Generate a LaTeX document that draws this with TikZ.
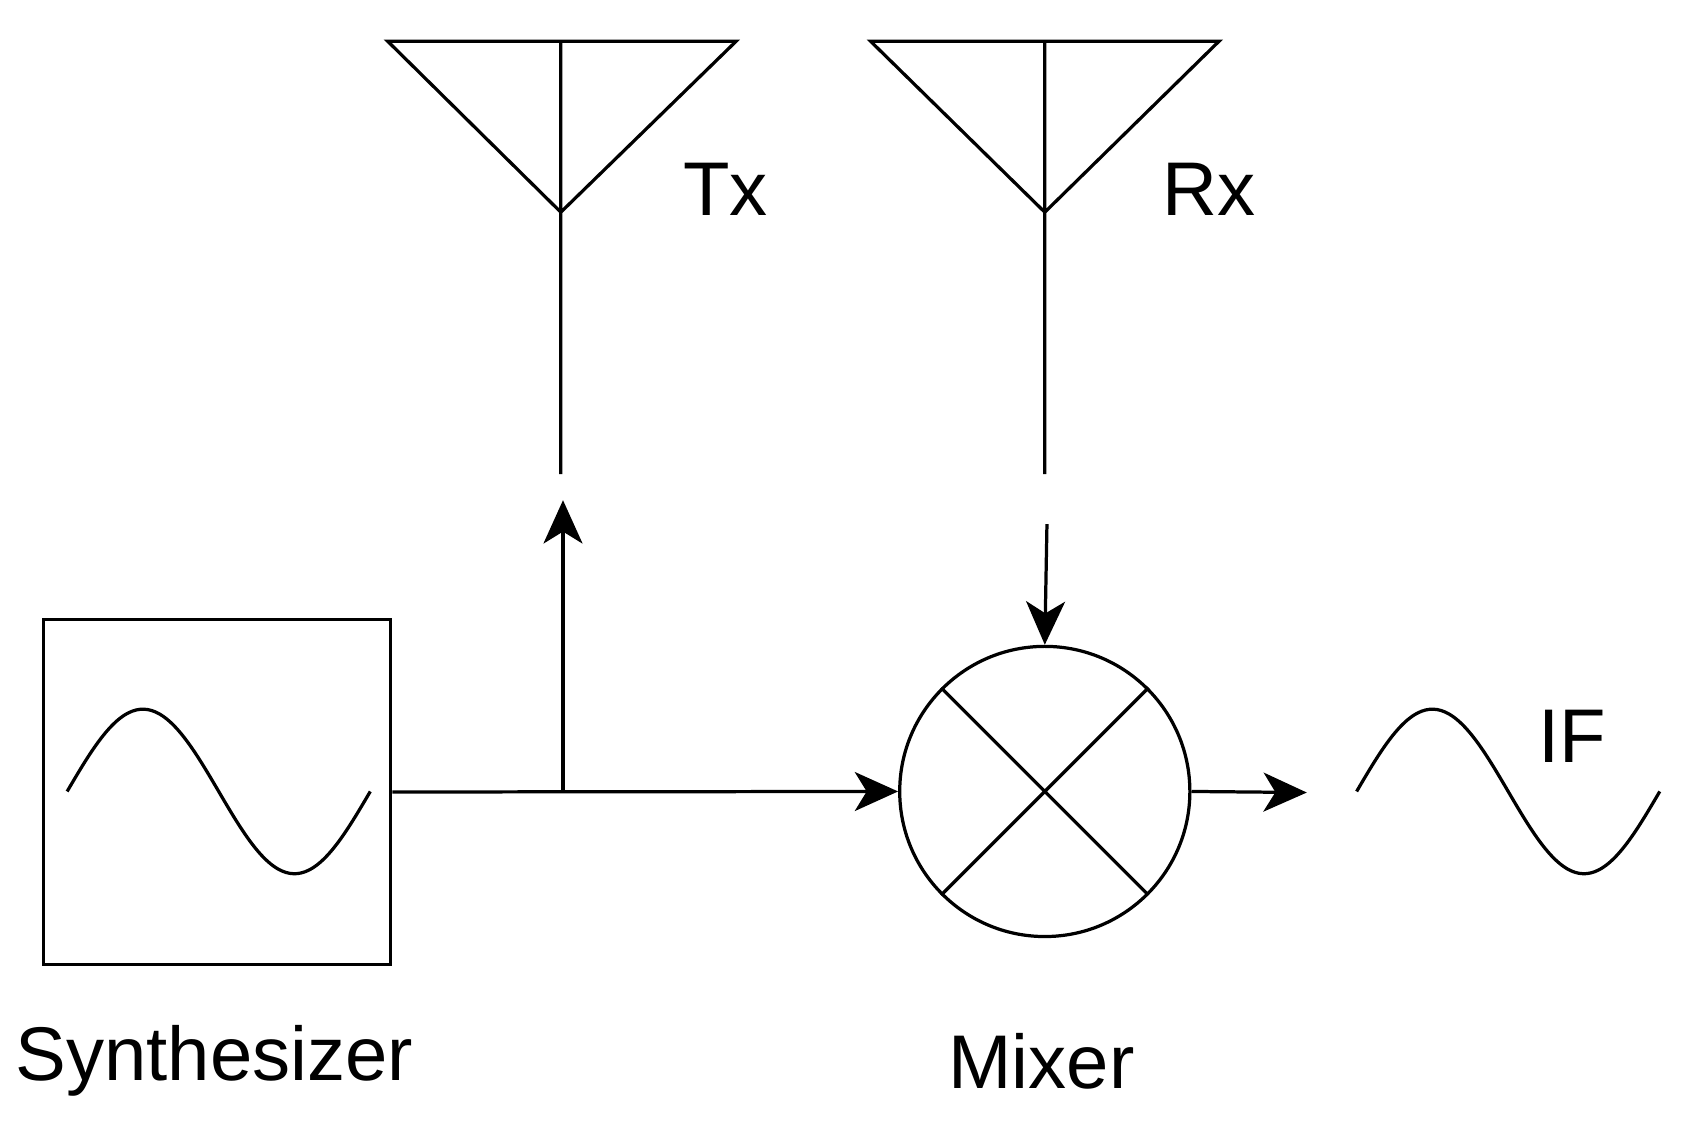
\documentclass[tikz,border=0pt]{standalone}
\usepackage{fontspec}
\setmainfont{Liberation Sans}
\usetikzlibrary{arrows.meta}
\begin{document}
\begin{tikzpicture}[x=0.02cm,y=-0.02cm,line width=1.7pt,
  lbl/.style={font=\fontsize{40}{48}\selectfont,inner sep=0pt},
  arr/.style={-{Stealth[length=0.8cm,width=0.72cm,inset=0.22cm]}},
  wave/.style={line join=round}]
\useasboundingbox (0,0) rectangle (1560,1042);
% synthesizer
\node[draw,minimum width=321*0.02cm,minimum height=319*0.02cm,inner sep=0pt] (syn) at (200.5,731.5) {};
\draw[wave] plot[domain=0:280,samples=80,smooth] ({62+\x},{731-76*sin(1.285714*\x)});
\node[lbl] (synl) at (198,980) {Synthesizer};
% mixer
\node[draw,circle,minimum size=268*0.02cm,inner sep=0pt] (mix) at (965,731) {};
\draw (mix.45) -- (mix.225) (mix.135) -- (mix.315);
\node[lbl] (mixl) at (962,980) {Mixer};
% antennas
\coordinate (txa) at (518,196); \coordinate (txb) at (518,438);
\draw (358,38) -- (680,38) -- (txa) -- cycle (518,38) -- (txa) -- (txb);
\node[lbl] (txl) at (670,175) {Tx};
\coordinate (rxa) at (965,196); \coordinate (rxb) at (965,438);
\draw (804,38) -- (1126,38) -- (rxa) -- cycle (965,38) -- (rxa) -- (rxb);
\node[lbl] (rxl) at (1117,175) {Rx};
% connections
\coordinate (br) at (520,731);
\coordinate (txin) at (520,462);
\coordinate (rxout) at (967,484);
\coordinate (ifin) at (1207,732);
\draw[arr] (syn.east) -- (mix.west);
\draw[arr] (br) -- (txin);
\draw[arr] (rxout) -- (mix.north);
\draw[arr] (mix.east) -- (ifin);
% IF
\draw[wave] plot[domain=0:280,samples=80,smooth] ({1253+\x},{731-76*sin(1.285714*\x)});
\node[lbl] (ifl) at (1452,680) {IF};
\end{tikzpicture}
\end{document}
